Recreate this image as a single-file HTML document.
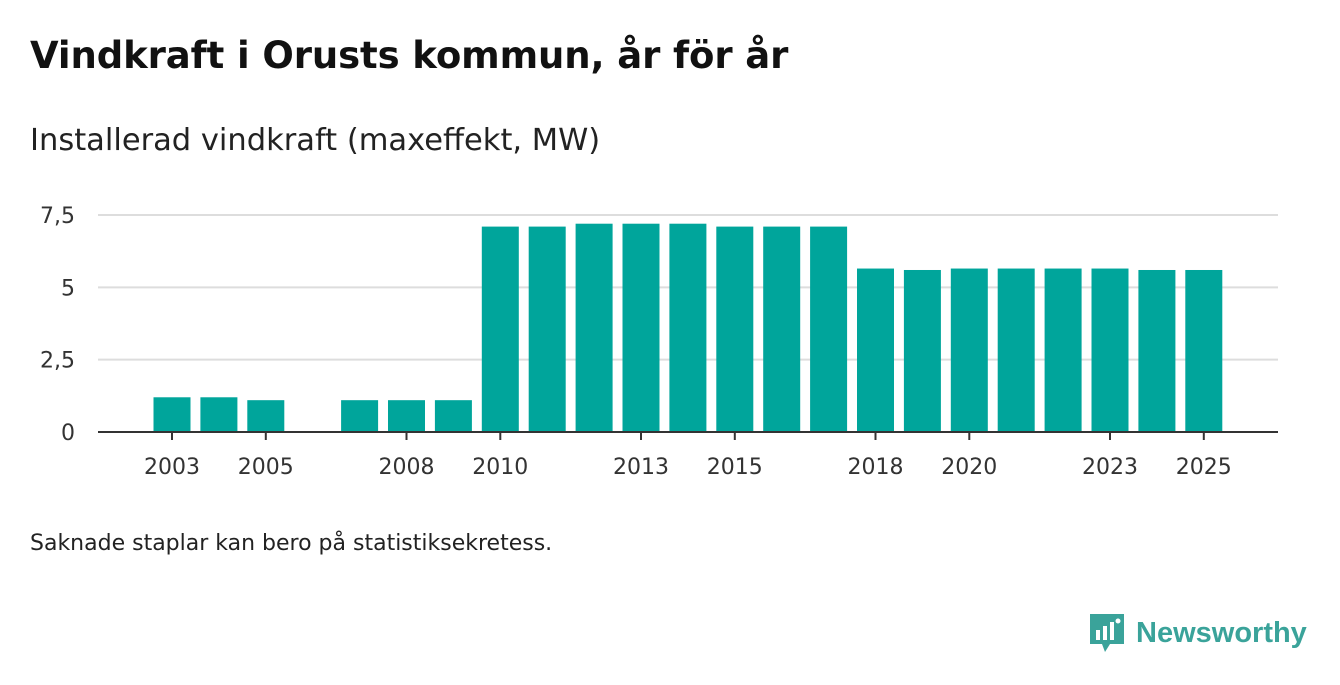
<!DOCTYPE html>
<html><head><meta charset="utf-8"><style>
body{margin:0;width:1340px;height:685px;background:#fff;font-family:"DejaVu Sans",sans-serif;overflow:hidden;position:relative}
h1{position:absolute;left:30px;top:34px;margin:0;font-size:37px;font-weight:bold;color:#111;letter-spacing:-0.1px}
.sub{position:absolute;left:30px;top:123px;font-size:30.5px;color:#222}
.note{position:absolute;left:30px;top:531px;font-size:22px;color:#222}
.logo{position:absolute;left:1088px;top:612px;display:flex;align-items:center}
</style></head><body>
<h1>Vindkraft i Orusts kommun, år för år</h1>
<div class="sub">Installerad vindkraft (maxeffekt, MW)</div>
<svg id="chart" width="1340" height="685" style="position:absolute;left:0;top:0"></svg>
<div class="note">Saknade staplar kan bero på statistiksekretess.</div>
<div class="logo">
<svg width="38" height="42"><path d="M2 2h34v30H22l-5 8-3-8H2z" fill="#3aa39a"/><rect x="8" y="18" width="4" height="10" fill="#fff"/><rect x="15" y="14" width="4" height="14" fill="#fff"/><rect x="22" y="10" width="4" height="18" fill="#fff"/><circle cx="30" cy="9" r="2.5" fill="#fff"/></svg>
<span style="font-family:'Liberation Sans',sans-serif;font-size:29px;font-weight:bold;color:#3aa39a;margin-left:10px">Newsworthy</span>
</div>
<script>
const years=[2003,2004,2005,2007,2008,2009,2010,2011,2012,2013,2014,2015,2016,2017,2018,2019,2020,2021,2022,2023,2024,2025];
const values=[1.2,1.2,1.1,1.1,1.1,1.1,7.1,7.1,7.2,7.2,7.2,7.1,7.1,7.1,5.65,5.6,5.65,5.65,5.65,5.65,5.6,5.6];
const yTicks=[0,2.5,5,7.5];
const yTickLabels=["0","2,5","5","7,5"];
const xTickYears=[2003,2005,2008,2010,2013,2015,2018,2020,2023,2025];
const svg=document.getElementById('chart');const NS='http://www.w3.org/2000/svg';
const x=y=>172+(y-2003)*46.9;const yS=v=>432-v*28.93;
function mk(t,a){const e=document.createElementNS(NS,t);for(const k in a)e.setAttribute(k,a[k]);svg.appendChild(e);return e;}
yTicks.forEach((t,i)=>{
 if(t>0){const l=mk('line',{x1:98,x2:1278,y1:yS(t),y2:yS(t),stroke:'#ddd','stroke-width':2});
 
 }
 const tx=mk('text',{x:75,y:yS(t)+8,'text-anchor':'end','font-size':22,fill:'#333','font-family':'DejaVu Sans'});tx.textContent=yTickLabels[i];
 
 
});
years.forEach((yr,i)=>{
 const r=mk('rect',{x:x(yr)-18.5,y:yS(values[i]),width:37,height:432-yS(values[i]),fill:'#00a59b'});
 
 
});
const ax=mk('line',{x1:98,x2:1278,y1:432,y2:432,stroke:'#333','stroke-width':2});


xTickYears.forEach(yr=>{
 const tk=mk('line',{x1:x(yr),x2:x(yr),y1:432,y2:440,stroke:'#333','stroke-width':2});
 
 
 const tx=mk('text',{x:x(yr),y:474,'text-anchor':'middle','font-size':22,fill:'#333','font-family':'DejaVu Sans'});tx.textContent=yr;
 
 
});
</script>
</body></html>
